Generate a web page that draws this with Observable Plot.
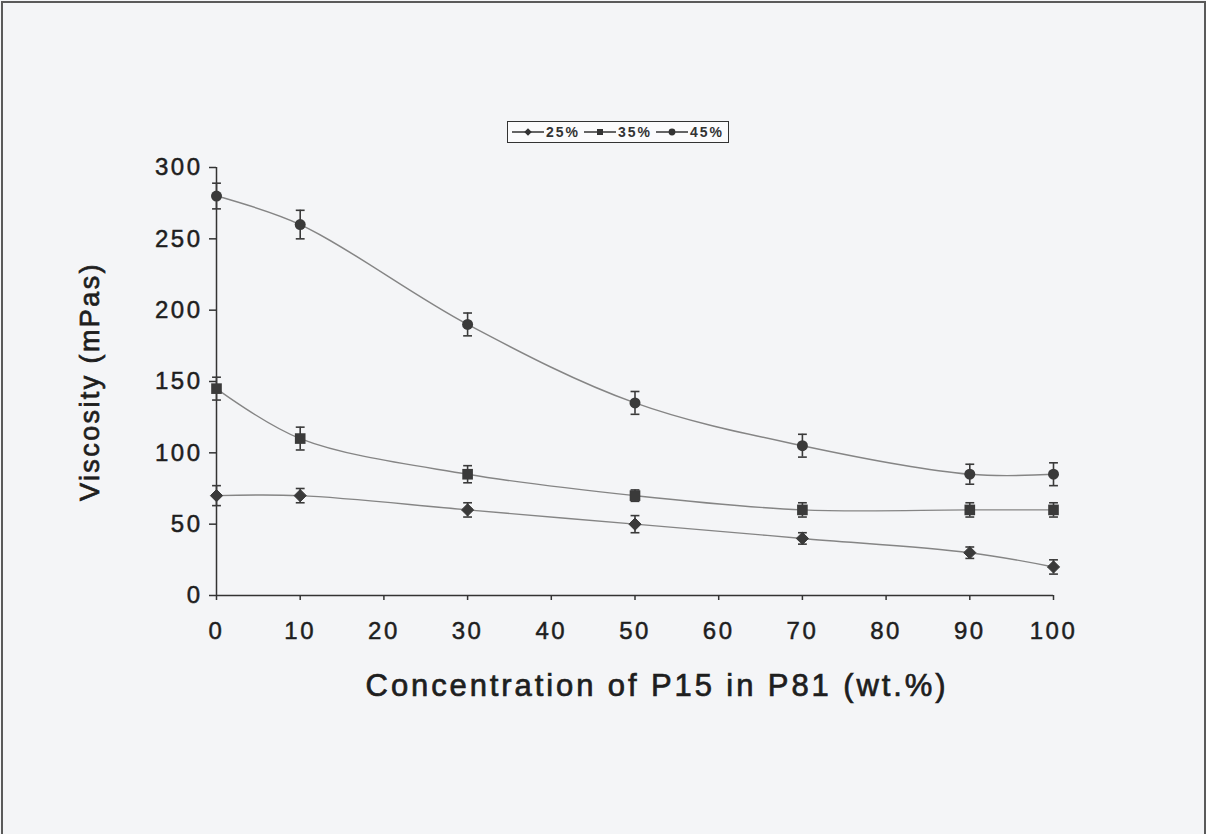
<!DOCTYPE html>
<html>
<head>
<meta charset="utf-8">
<script src="https://cdn.jsdelivr.net/npm/d3@7"></script>
<script src="https://cdn.jsdelivr.net/npm/@observablehq/plot@0.6"></script>
<style>
  html, body { margin: 0; padding: 0; background: #f4f5f7; }
  #wrap { position: relative; width: 1206px; height: 834px; overflow: hidden; background: #f4f5f7; font-family: "Liberation Sans", Arial, sans-serif; }
  #border { position: absolute; left: 1px; top: 1px; width: 1201px; height: 840px; border: 2px solid #5a5a5a; pointer-events: none; }
  #legend { position: absolute; left: 507px; top: 121px; width: 220px; height: 20px; border: 1px solid #333; background: #fbfbfc; display: flex; align-items: center; justify-content: center; gap: 4px; font-weight: bold; font-size: 14px; color: #333; letter-spacing: 2px; }
  #legend .item { display: flex; align-items: center; gap: 2px; }
  #chart svg g[aria-label="x-axis tick label"] text,
  #chart svg g[aria-label="y-axis tick label"] text { letter-spacing: 2.5px; stroke: #1e1e1e; stroke-width: 0.5px; }
  #chart svg g.ytitle text { letter-spacing: 2.4px; stroke: #1e1e1e; stroke-width: 0.7px; }
  #chart svg g.xtitle text { letter-spacing: 2.9px; stroke: #1e1e1e; stroke-width: 0.7px; }
</style>
</head>
<body>
<div id="wrap">
  <div id="chart"></div>
  <div id="legend"></div>
  <div id="border"></div>
</div>
<script>
// Data
const concentrations = [0, 10, 30, 50, 70, 90, 100];
const seriesNames = ["25%", "35%", "45%"];
const values25 = [70, 70, 60, 50, 40, 30, 20];
const values35 = [145, 110, 85, 70, 60, 60, 60];
const values45 = [280, 260, 190, 135, 105, 85, 85];
const errors25 = [7, 5, 5, 6, 4, 4, 5];
const errors35 = [8, 8, 6, 4, 5, 5, 5];
const errors45 = [9, 10, 8, 8, 8, 7, 8];
const xTicks = [0, 10, 20, 30, 40, 50, 60, 70, 80, 90, 100];
const yTicks = [0, 50, 100, 150, 200, 250, 300];
const xTitle = "Concentration of P15 in P81 (wt.%)";
const yTitle = "Viscosity (mPas)";

const symbolsBySeries = {"25%": "diamond2", "35%": "square", "45%": "circle"};

const rows = [];
[[values25, errors25], [values35, errors35], [values45, errors45]].forEach(([vals, errs], i) => {
  concentrations.forEach((c, j) => {
    rows.push({series: seriesNames[i], x: c, y: vals[j], lo: vals[j] - errs[j], hi: vals[j] + errs[j]});
  });
});

const capSymbol = {
  draw(context, size) {
    const r = Math.sqrt(size) / 2;
    context.moveTo(-r, 0);
    context.lineTo(r, 0);
  }
};

const markColor = "#3a3a3a";
const lineColor = "#858585";

const chart = Plot.plot({
  width: 1206,
  height: 834,
  marginLeft: 216,
  marginRight: 153,
  marginTop: 167,
  marginBottom: 239,
  style: {background: "transparent", fontFamily: "'Liberation Sans', Arial, sans-serif"},
  x: {domain: [0, 100]},
  y: {domain: [0, 300]},
  marks: [
    Plot.axisX({ticks: xTicks, tickSize: 5, tickPadding: 21, fontSize: 24, stroke: "#333", strokeWidth: 1.5, color: "#1e1e1e", label: null}),
    Plot.axisY({ticks: yTicks, tickSize: 7, tickPadding: 7, fontSize: 24, stroke: "#333", strokeWidth: 1.5, color: "#1e1e1e", label: null}),
    Plot.ruleY([0], {stroke: "#333", strokeWidth: 1.5}),
    Plot.ruleX([0], {stroke: "#333", strokeWidth: 1.5}),
    Plot.line(rows, {x: "x", y: "y", z: "series", curve: "catmull-rom", stroke: lineColor, strokeWidth: 1.4}),
    Plot.ruleX(rows, {x: "x", y1: "lo", y2: "hi", stroke: markColor, strokeWidth: 1.6}),
    Plot.dot(rows, {x: "x", y: "lo", symbol: capSymbol, r: 5, stroke: markColor, strokeWidth: 1.6, fill: "none"}),
    Plot.dot(rows, {x: "x", y: "hi", symbol: capSymbol, r: 5, stroke: markColor, strokeWidth: 1.6, fill: "none"}),
    Plot.dot(rows.filter(d => d.series === "25%"), {x: "x", y: "y", symbol: "diamond2", r: 5.5, fill: markColor, stroke: markColor, strokeWidth: 1}),
    Plot.dot(rows.filter(d => d.series === "35%"), {x: "x", y: "y", symbol: "square", r: 6, fill: markColor, stroke: "none"}),
    Plot.dot(rows.filter(d => d.series === "45%"), {x: "x", y: "y", symbol: "circle", r: 5.5, fill: markColor, stroke: "none"}),
    Plot.text([yTitle], {frameAnchor: "left", dx: -126, rotate: -90, textAnchor: "middle", fontSize: 27, fill: "#1e1e1e", className: "ytitle"}),
    Plot.text([xTitle], {frameAnchor: "bottom", dy: 100, dx: 22, textAnchor: "middle", fontSize: 31, fill: "#1e1e1e", className: "xtitle"})
  ]
});
document.getElementById("chart").appendChild(chart);

// Legend
const legend = document.getElementById("legend");
seriesNames.forEach(name => {
  const item = document.createElement("div");
  item.className = "item";
  const svg = d3.create("svg").attr("width", 32).attr("height", 12);
  svg.append("line").attr("x1", 0).attr("x2", 32).attr("y1", 6).attr("y2", 6).attr("stroke", "#333").attr("stroke-width", 1.5);
  const sym = {"diamond2": d3.symbolDiamond2, "square": d3.symbolSquare, "circle": d3.symbolCircle}[symbolsBySeries[name]];
  svg.append("path").attr("d", d3.symbol(sym, 36)()).attr("transform", "translate(16,6)").attr("fill", "#333");
  item.appendChild(svg.node());
  const label = document.createElement("span");
  label.textContent = name;
  item.appendChild(label);
  legend.appendChild(item);
});
</script>
</body>
</html>
